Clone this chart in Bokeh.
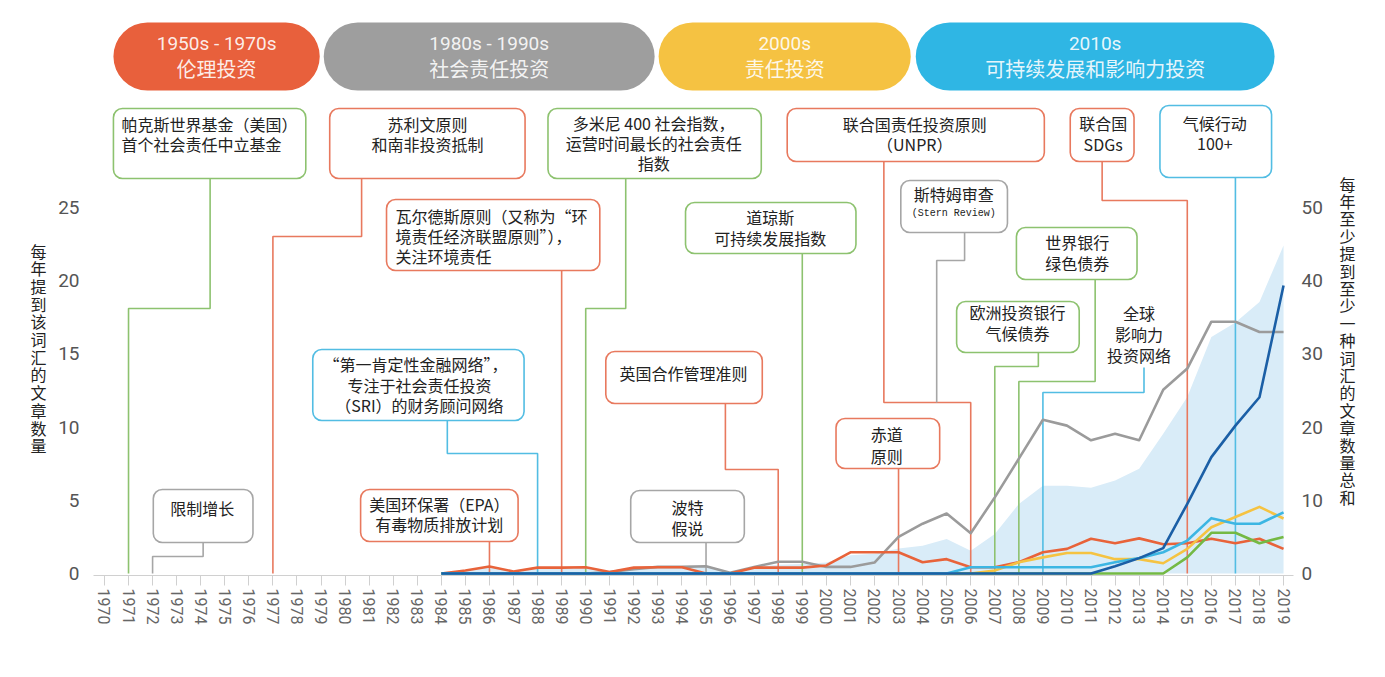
import math
from bokeh.plotting import figure
from bokeh.layouts import row
from bokeh.models import Range1d, LinearAxis, FixedTicker, BoxAnnotation, Label, ColumnDataSource
from bokeh.core.properties import value
from bokeh.embed import file_html
from bokeh.resources import INLINE

# ---------------- data ----------------
years = list(range(1984, 2020))
axis_years = list(range(1970, 2020))
left_ticks = [0, 5, 10, 15, 20, 25]
right_ticks = [0, 10, 20, 30, 40, 50]

series_gray = [0, 0, 0, 0, 0, 0, 0, 0.1, 0.3, 0.45, 0.45, 0.5, 0.05, 0.45, 0.8, 0.8, 0.45, 0.45,
               0.75, 2.5, 3.4, 4.1, 2.75, 5.2, 7.85, 10.5, 10.1, 9.1, 9.55, 9.1, 12.55, 14.0,
               17.2, 17.2, 16.5, 16.5]
series_orange = [0, 0.2, 0.48, 0.14, 0.4, 0.4, 0.43, 0.1, 0.4, 0.43, 0.43, 0, 0, 0.4, 0.4, 0.4,
                 0.55, 1.45, 1.45, 1.45, 0.77, 0.98, 0.43, 0.43, 0.77, 1.45, 1.68, 2.37, 2.07,
                 2.4, 2.0, 2.07, 2.37, 2.07, 2.37, 1.68]
series_yellow = [0] * 23 + [0.2, 0.77, 1.1, 1.4, 1.4, 0.98, 0.98, 0.7, 1.68, 3.16, 3.86, 4.55, 3.76]
series_lightblue = [0] * 22 + [0.43, 0.43, 0.43, 0.43, 0.43, 0.43, 0.77, 1.05, 1.45, 2.25, 3.78,
                               3.4, 3.4, 4.18]
series_green = [0] * 31 + [1.1, 2.78, 2.78, 2.07, 2.5]
series_darkblue = [0] * 28 + [0.5, 1.05, 1.73, 4.76, 7.95, 10.1, 12.04, 19.67]
total_any = [0, 0.4, 1.0, 0.3, 0.8, 0.8, 0.9, 0.3, 0.8, 0.9, 0.9, 1.0, 0.1, 0.9, 1.2, 1.3,
             1.5, 2.5, 2.7, 3.4, 3.8, 4.7, 3.1, 5.4, 9.5, 12.0, 12.0, 11.7, 12.7, 14.3, 19.1,
             24.1, 32.3, 34.3, 37.1, 44.8]

era_titles = ["1950s - 1970s", "1980s - 1990s", "2000s", "2010s"]
era_names = ["伦理投资", "社会责任投资", "责任投资", "可持续发展和影响力投资"]

left_title = "每年提到该词汇的文章数量"
right_title = "每年至少提到至少一种词汇的文章数量总和"

event_years = [1971, 1977, 1990, 2006, 2015, 2017, 1989, 1999, 2006, 2008, 2007, 2009,
               1988, 1998, 2003, 1972, 1986, 1995]
event_texts = [
    ["帕克斯世界基金（美国）", "首个社会责任中立基金"],
    ["苏利文原则", "和南非投资抵制"],
    ["多米尼 400 社会指数，", "运营时间最长的社会责任", "指数"],
    ["联合国责任投资原则", "（UNPR）"],
    ["联合国", "SDGs"],
    ["气候行动", "100+"],
    ["瓦尔德斯原则（又称为“环", "境责任经济联盟原则”），", "关注环境责任"],
    ["道琼斯", "可持续发展指数"],
    ["斯特姆审查"],
    ["世界银行", "绿色债券"],
    ["欧洲投资银行", "气候债券"],
    ["全球", "影响力", "投资网络"],
    ["“第一肯定性金融网络”，", "专注于社会责任投资", "（SRI）的财务顾问网络"],
    ["英国合作管理准则"],
    ["赤道", "原则"],
    ["限制增长"],
    ["美国环保署（EPA）", "有毒物质排放计划"],
    ["波特", "假说"],
]
stern_sub = "(Stern Review)"

# ---------------- layout / styles ----------------
W, H = 1385, 677
LW, RW = 55, 60                      # side panels holding the stacked axis titles
MW = W - LW - RW                     # main figure width
FL, FR, FT, FB = 93, 1297, 0, 575    # frame box in page pixels
SX, SY = 24.143, 14.64
X1970_PX, Y0_PX = 104, 573

x_start = 1970 - (X1970_PX - FL) / SX
x_end = x_start + (FR - FL) / SX
y_start = -(FB - Y0_PX) / SY
y_end = (Y0_PX - FT) / SY


def X(px):
    return 1970 + (px - X1970_PX) / SX


def Y(py):
    return (Y0_PX - py) / SY


C_ORANGE = "#E8633A"
C_GRAY = "#9B9B9B"
C_YELLOW = "#F5C342"
C_LBLUE = "#3CB6E3"
C_GREEN = "#74B944"
C_DBLUE = "#1B5FA6"
C_AREA = "#D9ECF8"

K_GREEN = "#8DC26F"
K_ORANGE = "#E8795E"
K_GRAY = "#A6A6A6"
K_BLUE = "#52BDE3"

CJK = "Noto Sans CJK SC"

event_layout = [
    (K_GREEN, (113, 108, 306, 178), "left", 121, [123, 143], ("elbow", 210, 178, 308)),
    (K_ORANGE, (330, 108, 526, 178), "center", 428, [123, 143], ("elbow", 362, 178, 236)),
    (K_GREEN, (549, 108, 763, 178), "center", 655, [122, 142, 162], ("elbow", 627, 178, 308)),
    (K_ORANGE, (789, 108, 1047, 161), "center", 917, [123, 143], ("elbow", 886, 161, 402)),
    (K_ORANGE, (1073, 108, 1137, 161), "center", 1106, [122, 143], ("elbow", 1105, 161, 200)),
    (K_BLUE, (1163, 105, 1275, 177), "center", 1218, [122, 143], ("straight", 177)),
    (K_ORANGE, (387, 199, 601, 270), "left", 396, [215, 235, 255], ("straight", 270)),
    (K_GREEN, (687, 202, 858, 253), "center", 772, [216, 237], ("straight", 253)),
    (K_GRAY, (903, 180, 1010, 232), "center", 956, [193], ("custom", [967, 967, 939, 939], [232, 260, 260, 402])),
    (K_GREEN, (1019, 227, 1140, 279), "center", 1080, [241, 262], ("elbow", 1098, 279, 381)),
    (K_GREEN, (959, 301, 1082, 352), "center", 1020, [311, 332], ("elbow", 1041, 352, 366)),
    (K_BLUE, None, "center", 1142, [312, 333, 354], ("elbow", 1147, 367, 392)),
    (K_BLUE, (313, 349, 525, 420), "center", 420, [363, 384, 404], ("elbow", 448, 420, 453)),
    (K_ORANGE, (607, 351, 764, 403), "center", 685, [372], ("elbow", 727, 403, 469)),
    (K_ORANGE, (838, 418, 942, 468), "center", 889, [433, 455], ("straight", 468)),
    (K_GRAY, (153, 489, 253, 542), "center", 202, [507], ("elbow", 203, 542, 556)),
    (K_ORANGE, (361, 489, 519, 541), "center", 440, [503, 523], ("straight", 541)),
    (K_GRAY, (632, 490, 746, 542), "center", 689, [506, 527], ("straight", 542)),
]

era_layout = [(113, 320, "#E8603C"), (324, 656, "#9E9E9E"), (660, 913, "#F5C242"), (918, 1278, "#2FB6E4")]

# ---------------- main figure ----------------
p = figure(width=MW, height=H, x_range=Range1d(x_start, x_end), y_range=Range1d(y_start, y_end),
           output_backend="svg", toolbar_location=None,
           min_border_left=FL - LW, min_border_right=(W - RW) - FR, min_border_top=FT,
           min_border_bottom=H - FB,
           outline_line_color=None, background_fill_color="white", border_fill_color="white")
p.extra_y_ranges = {"right": Range1d(2 * y_start, 2 * y_end)}
p.xgrid.visible = False
p.ygrid.visible = False

xa = p.xaxis[0]
xa.ticker = FixedTicker(ticks=axis_years)
xa.major_label_orientation = "vertical"
xa.major_label_text_font = "Roboto"
xa.major_label_text_font_size = "16px"
xa.major_label_text_color = "#666666"
xa.axis_line_color = "#D0D0D0"
xa.major_tick_line_color = "#D0D0D0"
xa.major_tick_out = 10
xa.major_tick_in = 0
xa.minor_tick_line_color = None
xa.major_label_standoff = 3

ya = p.yaxis[0]
ya.ticker = FixedTicker(ticks=left_ticks)
ya.axis_line_color = None
ya.major_tick_line_color = None
ya.minor_tick_line_color = None
ya.major_label_text_font = "Roboto"
ya.major_label_text_font_size = "19px"
ya.major_label_text_color = "#555555"
ya.major_label_standoff = 8

ra = LinearAxis(y_range_name="right", ticker=FixedTicker(ticks=right_ticks))
ra.axis_line_color = None
ra.major_tick_line_color = None
ra.minor_tick_line_color = None
ra.major_label_text_font = "Roboto"
ra.major_label_text_font_size = "19px"
ra.major_label_text_color = "#555555"
ra.major_label_standoff = 2
p.add_layout(ra, "right")

# area (right axis)
p.varea(x=years, y1=[0] * len(years), y2=total_any, y_range_name="right", fill_color=C_AREA, fill_alpha=1)

# connectors
cxs, cys, ccols = [], [], []
for yr, (col, box, al, tx, tys, con) in zip(event_years, event_layout):
    if con[0] == "straight":
        xs = [yr, yr]
        ys = [Y(con[1]), 0]
    elif con[0] == "elbow":
        _, sx, top, ey = con
        xs = [X(sx), X(sx), yr, yr]
        ys = [Y(top), Y(ey), Y(ey), 0]
    else:
        xs = [X(v) for v in con[1]]
        ys = [Y(v) for v in con[2]]
    cxs.append(xs)
    cys.append(ys)
    ccols.append(col)
p.multi_line(xs="xs", ys="ys", line_color="c", line_width=1.6,
             source=ColumnDataSource(dict(xs=cxs, ys=cys, c=ccols)))

# data lines
for s, c in [(series_gray, C_GRAY), (series_orange, C_ORANGE), (series_yellow, C_YELLOW),
             (series_green, C_GREEN), (series_lightblue, C_LBLUE), (series_darkblue, C_DBLUE)]:
    p.line(years, s, line_color=c, line_width=2.6, line_join="round")

# annotation boxes and text
for yr, lines, (col, box, al, tx, tys, con) in zip(event_years, event_texts, event_layout):
    if box is not None:
        l, t, r, b = box
        p.add_layout(BoxAnnotation(left=X(l), right=X(r), top=Y(t), bottom=Y(b),
                                   fill_color="white", fill_alpha=1, line_color=col,
                                   line_alpha=1, line_width=1.6, border_radius=9))
    for txt, ty in zip(lines, tys):
        p.add_layout(Label(x=X(tx), y=Y(ty), text=txt, text_align=al, text_baseline="middle",
                           text_font=CJK, text_font_size="16px", text_color="#222222"))
p.add_layout(Label(x=X(956), y=Y(213), text=stern_sub, text_align="center", text_baseline="middle",
                   text_font="Liberation Mono", text_font_size="10px", text_color="#222222"))

# era pills
for (l, r, col), t1, t2 in zip(era_layout, era_titles, era_names):
    p.add_layout(BoxAnnotation(left=X(l), right=X(r), top=Y(22), bottom=Y(90), fill_color=col,
                               fill_alpha=1, line_color=None, border_radius=34))
    cx = X((l + r) / 2)
    p.add_layout(Label(x=cx, y=Y(43), text=t1, text_align="center", text_baseline="middle",
                       text_font="Roboto", text_font_size="19px", text_color="white", text_alpha=0.9))
    p.add_layout(Label(x=cx, y=Y(68), text=t2, text_align="center", text_baseline="middle",
                       text_font=CJK, text_font_size="20px", text_color="white", text_alpha=0.9))


# ---------------- side panels with stacked axis titles ----------------
# (frames in a row are aligned with the main frame: page y FT..FB)
def side_panel(width, chars, cx, y_first, step):
    s = figure(width=width, height=H, x_range=Range1d(0, width), y_range=Range1d(FB, FT),
               output_backend="svg", toolbar_location=None, min_border=0,
               min_border_top=FT, min_border_bottom=H - FB,
               outline_line_color=None, background_fill_color="white", border_fill_color="white")
    s.axis.visible = False
    s.grid.visible = False
    chs = list(chars)
    s.text(x=[cx] * len(chs), y=[y_first + i * step for i in range(len(chs))], text=chs,
           text_align="center", text_baseline="middle", text_font=value(CJK),
           text_font_size="16px", text_color="#222222")
    return s


left_panel = side_panel(LW, left_title, 38, 250, 17.7)
right_panel = side_panel(RW, right_title, 1347 - (W - RW), 183, 17.4)

layout = row(left_panel, p, right_panel)
open("out.html", "w").write(file_html(layout, INLINE))
